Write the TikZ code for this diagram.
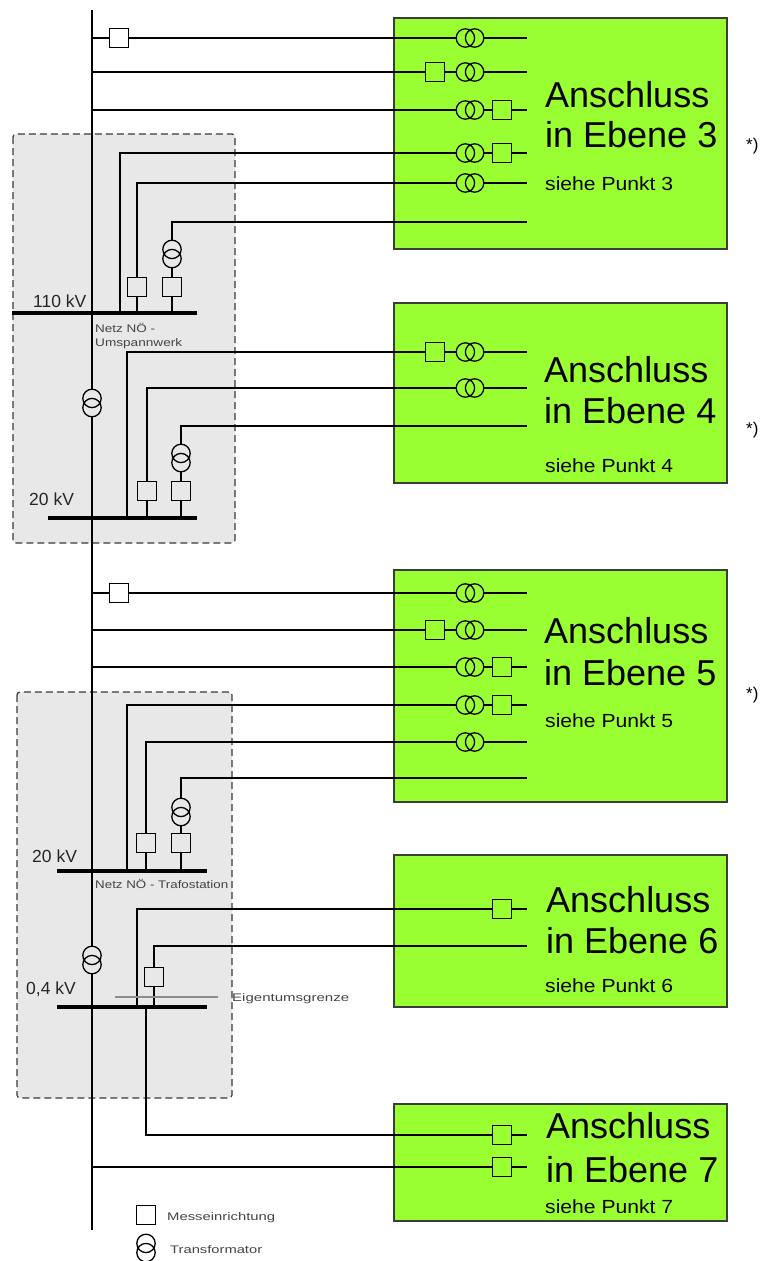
\documentclass[tikz,border=0pt]{standalone}
\usepackage{fontspec}
\setmainfont{Liberation Sans}
\definecolor{lvlgreen}{HTML}{99FF33}
\definecolor{boxline}{HTML}{3C3C3C}
\definecolor{stgray}{HTML}{E8E8E8}
\definecolor{stline}{HTML}{3A3A3A}
\definecolor{labgray}{HTML}{444444}
\definecolor{grenze}{HTML}{8C8C8C}
\newcommand\trafoV[2]{\node[trafoVbox] (#1) at (#2) {};
  \draw[wire] ([yshift=4.6pt]#1.center) circle[radius=9.2pt] ([yshift=-4.6pt]#1.center) circle[radius=9.2pt];}
\newcommand\trafoH[2]{\node[trafoHbox] (#1) at (#2) {};
  \draw[wire] ([xshift=4.6pt]#1.center) circle[radius=9.2pt] ([xshift=-4.6pt]#1.center) circle[radius=9.2pt];}
\newcommand\fitw[2]{\resizebox{#1}{\height}{#2}}
\begin{document}
\begin{tikzpicture}[x=1pt,y=-1pt,
  wire/.style={line width=1.3pt, draw=black},
  busbar/.style={line width=4.5pt, draw=black},
  meter/.style={draw=black, line width=1.3pt, rectangle, minimum size=19pt, inner sep=0pt},
  trafoVbox/.style={rectangle, minimum width=18.4pt, minimum height=27.6pt, inner sep=0pt},
  trafoHbox/.style={rectangle, minimum width=27.6pt, minimum height=18.4pt, inner sep=0pt},
  levelbox/.style={draw=boxline, fill=lvlgreen, line width=1.5pt},
  station/.style={draw=stline, fill=stgray, dash pattern=on 7pt off 4pt, line width=1.2pt, rounded corners=3pt},
  big/.style={inner sep=0pt, anchor=base west, font=\fontsize{36pt}{40pt}\selectfont},
  sub/.style={inner sep=0pt, anchor=base west, font=\fontsize{19pt}{22pt}\selectfont},
  kv/.style={inner sep=0pt, anchor=base west, text=black!85, font=\fontsize{17.5pt}{20pt}\selectfont},
  note/.style={inner sep=0pt, anchor=base west, text=labgray, font=\fontsize{11pt}{13pt}\selectfont},
  star/.style={inner sep=0pt, anchor=base west, font=\fontsize{17pt}{20pt}\selectfont}
]
\useasboundingbox (0,0) rectangle (765,1261);

% station areas
\draw[station] (13,134) rectangle (235,543);
\draw[station] (17,692) rectangle (232,1098);

% level boxes
\draw[levelbox] (394,18) rectangle (727,249);
\draw[levelbox] (394,303) rectangle (727,483);
\draw[levelbox] (394,570) rectangle (727,802);
\draw[levelbox] (394,855) rectangle (727,1007);
\draw[levelbox] (394,1104) rectangle (727,1221);

% main line
\coordinate (top) at (92,10);
\coordinate (bot) at (92,1230);
\trafoV{T1}{92,403}
\trafoV{T2}{92,960}
\draw[wire] (top) -- (T1) (T1) -- (T2) (T2) -- (bot);

% bus bars
\coordinate (b110w) at (12,313); \coordinate (b110e) at (197,313);
\coordinate (b20aw) at (48,518); \coordinate (b20ae) at (197,518);
\coordinate (b20bw) at (57,871); \coordinate (b20be) at (207,871);
\coordinate (b04w) at (57,1007); \coordinate (b04e) at (207,1007);
\draw[busbar] (b110w) -- (b110e);
\draw[busbar] (b20aw) -- (b20ae);
\draw[busbar] (b20bw) -- (b20be);
\draw[busbar] (b04w) -- (b04e);

% ===== Level 3 =====
\coordinate (r1j) at (92,38); \node[meter] (r1m) at (119,38) {};
\trafoH{r1t}{470,38} \coordinate (r1e) at (527,38);
\draw[wire] (r1j) -- (r1m) (r1m) -- (r1t) (r1t) -- (r1e);

\coordinate (r2j) at (92,72); \node[meter] (r2m) at (435,72) {};
\trafoH{r2t}{470,72} \coordinate (r2e) at (527,72);
\draw[wire] (r2j) -- (r2m) (r2m) -- (r2t) (r2t) -- (r2e);

\coordinate (r3j) at (92,110); \trafoH{r3t}{470,110}
\node[meter] (r3m) at (502,110) {}; \coordinate (r3e) at (527,110);
\draw[wire] (r3j) -- (r3t) (r3t) -- (r3m) (r3m) -- (r3e);

\coordinate (r4b) at (120,313); \coordinate (r4c) at (120,153);
\trafoH{r4t}{470,153} \node[meter] (r4m) at (502,153) {}; \coordinate (r4e) at (527,153);
\draw[wire] (r4b) -- (r4c) -- (r4t) (r4t) -- (r4m) (r4m) -- (r4e);

\coordinate (r5b) at (137,313); \node[meter] (r5m) at (137,287) {}; \coordinate (r5c) at (137,183);
\trafoH{r5t}{470,183} \coordinate (r5e) at (527,183);
\draw[wire] (r5b) -- (r5m) (r5m) -- (r5c) -- (r5t) (r5t) -- (r5e);

\coordinate (r6b) at (172,313); \node[meter] (r6m) at (172,287) {};
\trafoV{r6t}{172,254} \coordinate (r6c) at (172,222); \coordinate (r6e) at (527,222);
\draw[wire] (r6b) -- (r6m) (r6m) -- (r6t) (r6t) -- (r6c) -- (r6e);

% ===== Level 4 =====
\coordinate (s1b) at (127,518); \coordinate (s1c) at (127,352);
\node[meter] (s1m) at (435,352) {}; \trafoH{s1t}{470,352} \coordinate (s1e) at (527,352);
\draw[wire] (s1b) -- (s1c) -- (s1m) (s1m) -- (s1t) (s1t) -- (s1e);

\coordinate (s2b) at (147,518); \node[meter] (s2m) at (147,491) {}; \coordinate (s2c) at (147,388);
\trafoH{s2t}{470,388} \coordinate (s2e) at (527,388);
\draw[wire] (s2b) -- (s2m) (s2m) -- (s2c) -- (s2t) (s2t) -- (s2e);

\coordinate (s3b) at (181,518); \node[meter] (s3m) at (181,491) {};
\trafoV{s3t}{181,458} \coordinate (s3c) at (181,426); \coordinate (s3e) at (527,426);
\draw[wire] (s3b) -- (s3m) (s3m) -- (s3t) (s3t) -- (s3c) -- (s3e);

% ===== Level 5 =====
\coordinate (u1j) at (92,593); \node[meter] (u1m) at (119,593) {};
\trafoH{u1t}{470,593} \coordinate (u1e) at (527,593);
\draw[wire] (u1j) -- (u1m) (u1m) -- (u1t) (u1t) -- (u1e);

\coordinate (u2j) at (92,630); \node[meter] (u2m) at (435,630) {};
\trafoH{u2t}{470,630} \coordinate (u2e) at (527,630);
\draw[wire] (u2j) -- (u2m) (u2m) -- (u2t) (u2t) -- (u2e);

\coordinate (u3j) at (92,667); \trafoH{u3t}{470,667}
\node[meter] (u3m) at (502,667) {}; \coordinate (u3e) at (527,667);
\draw[wire] (u3j) -- (u3t) (u3t) -- (u3m) (u3m) -- (u3e);

\coordinate (u4b) at (127,871); \coordinate (u4c) at (127,705);
\trafoH{u4t}{470,705} \node[meter] (u4m) at (502,705) {}; \coordinate (u4e) at (527,705);
\draw[wire] (u4b) -- (u4c) -- (u4t) (u4t) -- (u4m) (u4m) -- (u4e);

\coordinate (u5b) at (146,871); \node[meter] (u5m) at (146,843) {}; \coordinate (u5c) at (146,742);
\trafoH{u5t}{470,742} \coordinate (u5e) at (527,742);
\draw[wire] (u5b) -- (u5m) (u5m) -- (u5c) -- (u5t) (u5t) -- (u5e);

\coordinate (u6b) at (181,871); \node[meter] (u6m) at (181,843) {};
\trafoV{u6t}{181,812} \coordinate (u6c) at (181,778); \coordinate (u6e) at (527,778);
\draw[wire] (u6b) -- (u6m) (u6m) -- (u6t) (u6t) -- (u6c) -- (u6e);

% ===== Level 6 =====
\coordinate (v1b) at (137,1007); \coordinate (v1c) at (137,909);
\node[meter] (v1m) at (502,909) {}; \coordinate (v1e) at (527,909);
\draw[wire] (v1b) -- (v1c) -- (v1m) (v1m) -- (v1e);

\coordinate (v2b) at (154,1007); \node[meter] (v2m) at (154,977) {}; \coordinate (v2c) at (154,946);
\coordinate (v2e) at (527,946);
\draw[wire] (v2b) -- (v2m) (v2m) -- (v2c) -- (v2e);

% Eigentumsgrenze
\coordinate (eg1) at (115,997); \coordinate (eg2) at (218,997);
\draw[draw=grenze, line width=1.3pt] (eg1) -- (eg2);
\node[note] (egt) at (232,1001) {\fitw{117pt}{Eigentumsgrenze}};

% ===== Level 7 =====
\coordinate (w1b) at (146,1007); \coordinate (w1c) at (146,1135);
\node[meter] (w1m) at (502,1135) {}; \coordinate (w1e) at (527,1135);
\draw[wire] (w1b) -- (w1c) -- (w1m) (w1m) -- (w1e);

\coordinate (w2j) at (92,1167); \node[meter] (w2m) at (502,1167) {}; \coordinate (w2e) at (527,1167);
\draw[wire] (w2j) -- (w2m) (w2m) -- (w2e);

% ===== texts in level boxes =====
\node[big] (a3) at (545,107) {Anschluss};
\node[big] (e3) at (545,147) {in Ebene 3};
\node[sub] (p3) at (545,190) {\fitw{128pt}{siehe Punkt 3}};
\node[star] (st3) at (746,150) {*)};

\node[big] (a4) at (544,382) {Anschluss};
\node[big] (e4) at (544,423) {in Ebene 4};
\node[sub] (p4) at (545,472) {\fitw{128pt}{siehe Punkt 4}};
\node[star] (st4) at (746,434) {*)};

\node[big] (a5) at (544,643) {Anschluss};
\node[big] (e5) at (544,685) {in Ebene 5};
\node[sub] (p5) at (545,727) {\fitw{128pt}{siehe Punkt 5}};
\node[star] (st5) at (746,699) {*)};

\node[big] (a6) at (546,912) {Anschluss};
\node[big] (e6) at (546,953) {in Ebene 6};
\node[sub] (p6) at (545,992) {\fitw{128pt}{siehe Punkt 6}};

\node[big] (a7) at (546,1138) {Anschluss};
\node[big] (e7) at (546,1182) {in Ebene 7};
\node[sub] (p7) at (545,1213) {\fitw{128pt}{siehe Punkt 7}};

% ===== voltage labels =====
\node[kv] (k110) at (33,307) {110 kV};
\node[kv] (k20a) at (29,505) {20 kV};
\node[kv] (k20b) at (32,862) {20 kV};
\node[kv] (k04) at (26,994) {0,4 kV};

\node[note] (nz1) at (95,332) {\fitw{60pt}{Netz NÖ -}};
\node[note] (nz2) at (95,346) {\fitw{87pt}{Umspannwerk}};
\node[note] (nz3) at (95,888) {\fitw{133pt}{Netz NÖ - Trafostation}};

% ===== legend =====
\node[meter] (lgm) at (146,1215) {};
\trafoV{lgt}{146,1248}
\node[note] (lgmt) at (167,1220) {\fitw{108pt}{Messeinrichtung}};
\node[note] (lgtt) at (170,1253) {\fitw{92pt}{Transformator}};
\end{tikzpicture}
\end{document}
